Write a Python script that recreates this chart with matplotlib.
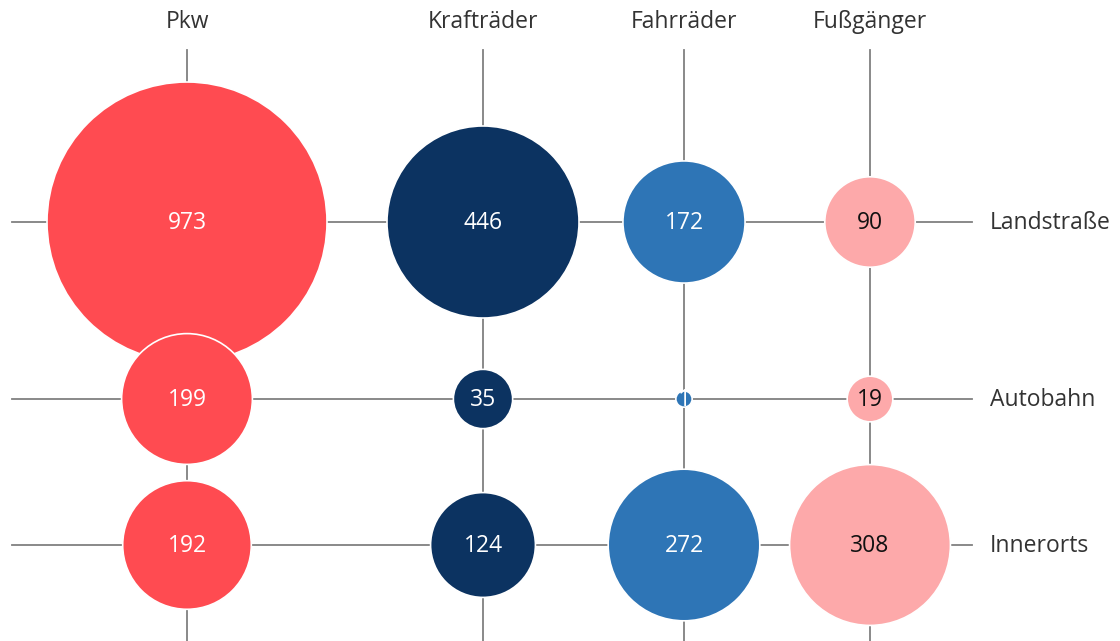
import matplotlib
matplotlib.use("Agg")
import matplotlib.pyplot as plt
import matplotlib.patches as patches
import numpy as np

# data: Verkehrstote nach Art der Verkehrsbeteiligung und Ortslage
columns = ["Pkw", "Krafträder", "Fahrräder", "Fußgänger"]
rows = ["Landstraße", "Autobahn", "Innerorts"]
pkw = [973, 199, 192]
kraftraeder = [446, 35, 124]
fahrraeder = [172, 1, 272]
fussgaenger = [90, 19, 308]

# layout (pixels)
col_x = [187, 483, 684, 870]
row_y = [222, 399, 545]
colors = ["#FF4B51", "#0C3361", "#2E75B6", "#FDA9AA"]
text_colors = ["white", "white", "white", "#111111"]
R_MIN, R_MAX = 3.8, 140.0

values = np.array([pkw, kraftraeder, fahrraeder, fussgaenger])  # columns x rows
vmax = values.max()


def radius(v):
    # sqrt scale with small minimum radius
    return R_MIN + (R_MAX - R_MIN) * np.sqrt(v / vmax)


plt.rcParams['font.family'] = ['Open Sans', 'DejaVu Sans']

fig = plt.figure(figsize=(11.2, 6.41), dpi=100)
ax = fig.add_axes([0, 0, 1, 1])
ax.set_xlim(0, 1120)
ax.set_ylim(641, 0)
ax.axis('off')

line_kw = dict(color='#808080', linewidth=1.3, zorder=1)

# grid lines
for y in row_y:
    ax.plot([12, 972], [y, y], **line_kw)
for x in col_x:
    ax.plot([x, x], [50, 641], **line_kw)

# column labels
for x, name in zip(col_x, columns):
    ax.text(x, 22, name, ha='center', va='center', fontsize=16.5, color='#333333')

# row labels
for y, name in zip(row_y, rows):
    ax.text(990, y + 1, name, ha='left', va='center', fontsize=16.5, color='#333333')

# bubbles, row by row so lower rows sit on top
z = 2
for j, y in enumerate(row_y):
    for i, x in enumerate(col_x):
        v = values[i, j]
        r = radius(v)
        ax.add_patch(patches.Circle((x, y), r, facecolor=colors[i],
                                    edgecolor='white', linewidth=1.2, zorder=z))
        ax.text(x, y + 1, str(v), ha='center', va='center', fontsize=16.5,
                color=text_colors[i], zorder=z + 1)
        z += 2

fig.savefig("out.png", dpi=100)
